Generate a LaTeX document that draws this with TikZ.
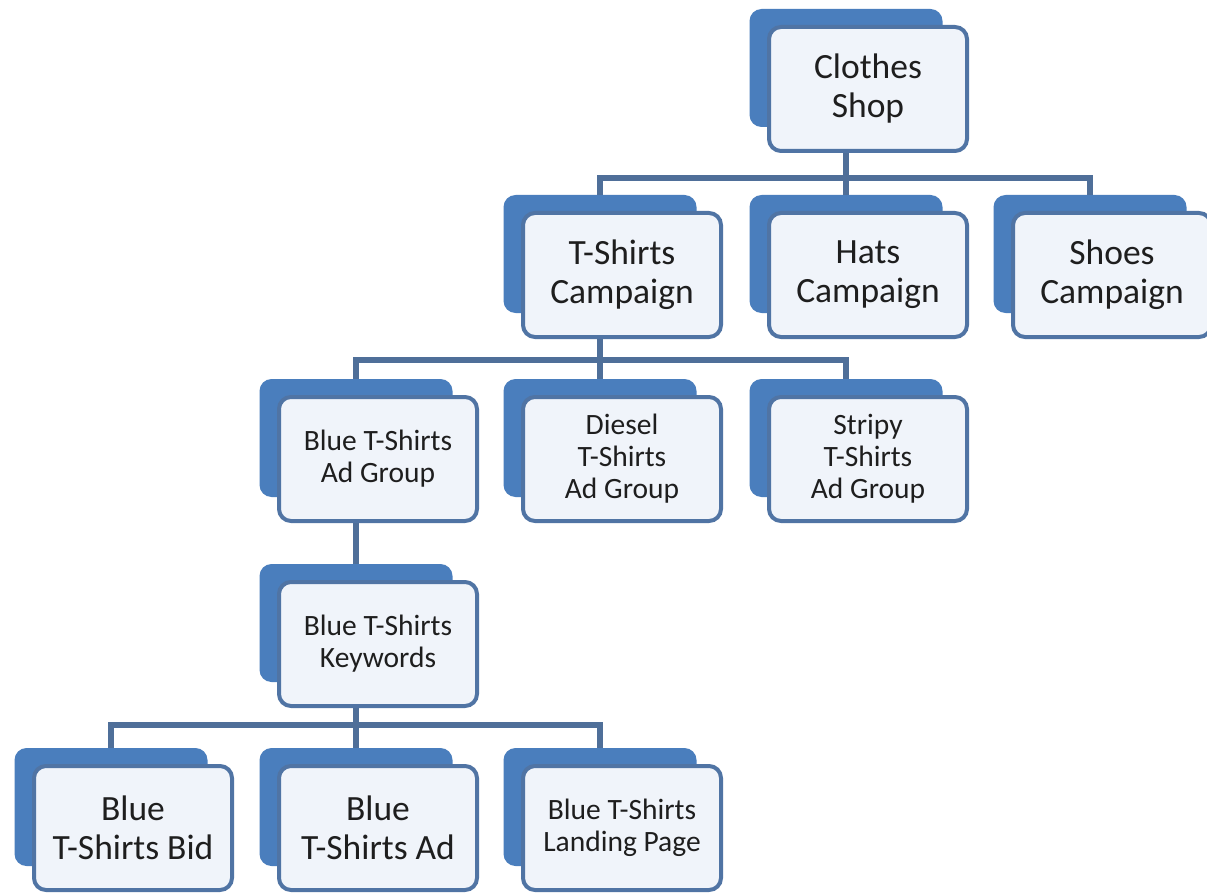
\documentclass[tikz,border=0pt]{standalone}
\usepackage{fontspec}
\setmainfont{Carlito}
\usepackage{tikz}
\usetikzlibrary{positioning}

\definecolor{backblue}{RGB}{74,126,189}
\definecolor{edgeblue}{RGB}{80,116,164}
\definecolor{frontfill}{RGB}{240,244,250}
\definecolor{linkblue}{RGB}{79,111,153}
\definecolor{textgray}{RGB}{30,30,30}

\begin{document}
\begin{tikzpicture}[x=1pt,y=-1pt]
			\tikzstyle{Back}	= [rectangle, rounded corners=12pt, fill=backblue, minimum width=193pt, minimum height=118pt, inner sep=0pt]
			\tikzstyle{Front}	= [rectangle, rounded corners=12pt, draw=edgeblue, line width=4pt, fill=frontfill, minimum width=198pt, minimum height=124pt, inner sep=0pt, align=center, text=textgray, xshift=22pt, yshift=-21pt]
			\tikzstyle{Big}		= [font=\fontsize{35.5}{39}\selectfont]
			\tikzstyle{Small}	= [font=\fontsize{29.5}{32}\selectfont]
			\tikzstyle{Link}	= [line width=6pt, linkblue]

			\useasboundingbox [fill=white] (0,0) rectangle (1207,893);

			% back plates
			\node (clothesB) at (846,68) [Back] {};
			\node (tshirtsB) at (600,254) [Back] {};
			\node (hatsB) at (846,254) [Back] {};
			\node (shoesB) at (1090,254) [Back] {};
			\node (blueB) at (356,438) [Back] {};
			\node (dieselB) at (600,438) [Back] {};
			\node (stripyB) at (846,438) [Back] {};
			\node (keywordsB) at (356,623) [Back] {};
			\node (bidB) at (111,807) [Back] {};
			\node (adB) at (356,807) [Back] {};
			\node (landingB) at (600,807) [Back] {};

			% bars
			\coordinate (bar1) at (0,178);
			\coordinate (bar2) at (0,360);
			\coordinate (bar3) at (0,725);

			\draw [Link] (clothesB.south) -- (clothesB.south |- bar1) -| (tshirtsB.north);
			\draw [Link] (clothesB.south) -- (hatsB.north);
			\draw [Link] (clothesB.south) -- (clothesB.south |- bar1) -| (shoesB.north);
			\draw [Link] (tshirtsB.south) -- (tshirtsB.south |- bar2) -| (blueB.north);
			\draw [Link] (tshirtsB.south) -- (dieselB.north);
			\draw [Link] (tshirtsB.south) -- (tshirtsB.south |- bar2) -| (stripyB.north);
			\draw [Link] (blueB.south) -- (keywordsB.north);
			\draw [Link] (keywordsB.south) -- (keywordsB.south |- bar3) -| (bidB.north);
			\draw [Link] (keywordsB.south) -- (adB.north);
			\draw [Link] (keywordsB.south) -- (keywordsB.south |- bar3) -| (landingB.north);

			% front cards
			\node (clothes) at (clothesB) [Front, Big] {Clothes\\Shop};
			\node (tshirts) at (tshirtsB) [Front, Big] {T-Shirts\\Campaign};
			\node (hats) at (hatsB) [Front, Big] {Hats\\Campaign};
			\node (shoes) at (shoesB) [Front, Big] {Shoes\\Campaign};
			\node (blue) at (blueB) [Front, Small] {Blue T-Shirts\\Ad Group};
			\node (diesel) at (dieselB) [Front, Small] {Diesel\\T-Shirts\\Ad Group};
			\node (stripy) at (stripyB) [Front, Small] {Stripy\\T-Shirts\\Ad Group};
			\node (keywords) at (keywordsB) [Front, Small] {Blue T-Shirts\\Keywords};
			\node (bid) at (bidB) [Front, Big] {Blue\\T-Shirts Bid};
			\node (ad) at (adB) [Front, Big] {Blue\\T-Shirts Ad};
			\node (landing) at (landingB) [Front, Small] {Blue T-Shirts\\Landing Page};

		\end{tikzpicture}
\end{document}
